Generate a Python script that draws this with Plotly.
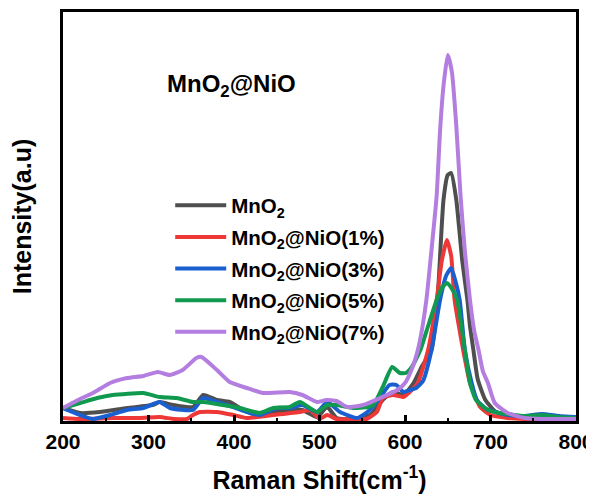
import plotly.graph_objects as go

# ---- data (arbitrary intensity units) ----
x_mno2 = [200, 220, 243, 275, 305, 313, 329, 352, 364, 380, 395, 411, 427, 446, 465, 480, 497, 509, 520, 540, 559,
          575, 586, 598, 610, 620, 631, 638, 645, 650, 654, 660, 667, 673, 676, 680, 685, 694, 705, 720, 740, 770, 800]
y_mno2 = [13, 8, 9, 13, 16, 19, 16, 14, 26, 21, 19, 11, 6, 9, 11, 11, 4, 14, 3, 2, 6,
          22, 29, 26, 38, 55, 71, 121, 221, 246, 248, 221, 160, 121, 95, 71, 42, 21, 10, 4, 3, 2, 2]

x_ni1 = [200, 220, 260, 290, 313, 330, 345, 352, 360, 380, 399, 415, 446, 477, 489, 500, 509, 520, 540, 555,
         567, 574, 586, 598, 609, 615, 627, 637, 643, 649, 654, 658, 663, 668, 676, 688, 700, 720, 740, 770, 800]
y_ni1 = [3, 2, 3, 3, 4, 2, 2, 6, 9, 9, 6, 3, 6, 9, 11, 2, 6, 2, 2, 2,
         9, 23, 26, 24, 32, 38, 71, 121, 160, 181, 165, 121, 95, 71, 38, 14, 6, 3, 2, 2, 2]

x_ni3 = [200, 220, 235, 255, 275, 294, 313, 325, 352, 364, 380, 399, 415, 430, 450, 465, 480, 497, 509, 524, 544, 556,
         567, 582, 590, 598, 606, 613, 621, 631, 641, 648, 654, 659, 664, 670, 678, 684, 695, 710, 720, 740, 760, 780, 800]
y_ni3 = [13, 6, 2, 6, 11, 13, 19, 13, 11, 23, 19, 14, 9, 6, 13, 13, 16, 9, 19, 9, 3, 9,
         19, 36, 36, 29, 31, 33, 40, 71, 121, 145, 153, 140, 121, 71, 38, 21, 12, 8, 6, 5, 7, 5, 4]

x_ni5 = [200, 220, 240, 258, 294, 313, 333, 352, 364, 387, 407, 430, 446, 465, 477, 497, 509, 520, 539, 556,
         563, 574, 585, 594, 601, 608, 618, 627, 637, 643, 649, 655, 661, 670, 676, 683, 695, 710, 720, 740, 760, 780, 800]
y_ni5 = [13, 18, 23, 26, 28, 24, 23, 19, 19, 16, 13, 8, 13, 14, 19, 9, 16, 16, 13, 14,
         16, 34, 54, 48, 48, 54, 71, 95, 121, 133, 138, 132, 121, 71, 38, 21, 12, 8, 7, 5, 6, 4, 3]

x_ni7 = [200, 220, 235, 255, 275, 294, 311, 325, 340, 356, 362, 380, 395, 415, 434, 465, 480, 497, 508, 520, 532, 551,
         571, 591, 600, 608, 615, 620, 625, 631, 637, 641, 645, 650, 655, 660, 665, 670, 676, 681, 686, 691, 697, 705,
         720, 740, 760, 800]
y_ni7 = [13, 22, 28, 38, 43, 45, 49, 46, 51, 63, 64, 51, 39, 33, 28, 29, 26, 19, 21, 20, 14, 16,
         23, 31, 38, 52, 71, 92, 121, 171, 225, 290, 335, 366, 348, 295, 225, 170, 121, 90, 71, 50, 38, 18,
         8, 3, 2, 2]

series = [
    ("MnO<sub>2</sub>", x_mno2, y_mno2, "#4f4f4f"),
    ("MnO<sub>2</sub>@NiO(1%)", x_ni1, y_ni1, "#ee3838"),
    ("MnO<sub>2</sub>@NiO(3%)", x_ni3, y_ni3, "#1a5fd0"),
    ("MnO<sub>2</sub>@NiO(5%)", x_ni5, y_ni5, "#10994f"),
    ("MnO<sub>2</sub>@NiO(7%)", x_ni7, y_ni7, "#b47ee0"),
]

x_ticks = [200, 300, 400, 500, 600, 700, 800]

FONT = "Liberation Sans, Arial, sans-serif"

fig = go.Figure()
for i, (name, xs, ys, col) in enumerate(series):
    fig.add_trace(go.Scatter(
        x=xs, y=ys, mode="lines", name="<b>" + name + "</b>",
        line=dict(color=col, width=4, shape="spline", smoothing=0.5),
        legendgroup=str(i),
    ))

# the page body adds an 8px offset, so the figure is shifted by 8px and kept inside the window
fig.update_layout(
    width=586, height=486,
    margin=dict(l=55, r=18, t=4, b=73, autoexpand=False),
    paper_bgcolor="white", plot_bgcolor="white",
    font=dict(family=FONT, color="black"),
    showlegend=True,
    legend=dict(
        x=0.209, y=0.576, xanchor="left", yanchor="top",
        bgcolor="rgba(0,0,0,0)", borderwidth=0,
        font=dict(family=FONT, size=20.5, color="black"),
        tracegroupgap=2, itemwidth=51,
    ),
    annotations=[dict(
        text="<b>MnO<sub>2</sub>@NiO</b>", xref="paper", yref="paper",
        x=0.199, y=0.82, xanchor="left", yanchor="middle", showarrow=False,
        font=dict(family=FONT, size=24, color="black"),
    )],
)

fig.update_xaxes(
    range=[200, 800], tickvals=x_ticks, ticktext=["<b>%d</b>" % v for v in x_ticks],
    ticks="inside", ticklen=6, tickwidth=2.5, tickcolor="black",
    minor=dict(ticks="inside", ticklen=3, tickwidth=2, dtick=50, tickcolor="black"),
    showline=True, linewidth=2.5, linecolor="black", mirror=True,
    showgrid=False, zeroline=False, automargin=False, ticklabeloverflow="allow",
    tickfont=dict(family=FONT, size=21, color="black"),
    title=dict(text="<b>Raman Shift(cm<sup>-1</sup>)</b>", font=dict(family=FONT, size=25, color="black"), standoff=23),
)
fig.update_yaxes(
    range=[0, 409], showticklabels=False, ticks="",
    showline=True, linewidth=2.5, linecolor="black", mirror=True,
    showgrid=False, zeroline=False, automargin=False,
    title=dict(text="<b>Intensity(a.u)</b>", font=dict(family=FONT, size=25, color="black"), standoff=24),
)

fig.write_html("out.html")
